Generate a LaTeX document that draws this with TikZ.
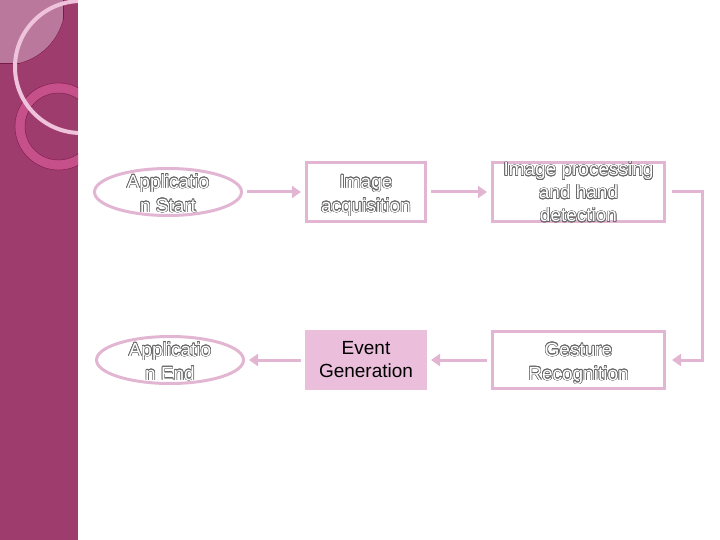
\documentclass[tikz,border=0pt]{standalone}
\usepackage{fontspec}
\setmainfont{Liberation Sans}
\usepackage[copies]{contour}
\usepackage{tikz}
\usetikzlibrary{shapes.geometric,arrows.meta,positioning}

\definecolor{bandpink}{HTML}{9E3C6E}
\definecolor{squarepink}{HTML}{B9789C}
\definecolor{ringpink}{HTML}{C5508A}
\definecolor{ringedge}{HTML}{7A1A48}
\definecolor{pale}{HTML}{EFC3DC}
\definecolor{flowpink}{HTML}{E2B6D3}
\definecolor{eventfill}{HTML}{EBBFDB}

\contourlength{0.6pt}
\newcommand{\etch}[1]{\contour{black!60}{#1}}

\begin{document}
\begin{tikzpicture}[x=1pt, y=-1pt,
    terminal/.style={ellipse, draw=flowpink, line width=3pt, text=white, inner xsep=0pt, inner ysep=-12pt, minimum width=147pt, minimum height=47pt, align=center, text height=40pt, text depth=0pt, font=\fontsize{19}{24}\selectfont},
    stepbox/.style={rectangle, draw=flowpink, line width=3pt, text=white, inner sep=0pt, minimum width=119pt, minimum height=59pt, align=center, text height=44pt, text depth=4pt, font=\fontsize{19}{24}\selectfont},
    eventbox/.style={rectangle, fill=eventfill, draw=eventfill, line width=3pt, inner sep=0pt, minimum width=119pt, minimum height=57pt, align=center, font=\fontsize{19}{23}\selectfont},
    line/.style={draw=flowpink, line width=3pt, -{Triangle[length=9pt,width=12pt]}, shorten >=4pt, shorten <=4pt}]

    \useasboundingbox (0,0) rectangle (720,540);

    % side band
    \fill[bandpink] (0,0) rectangle (78,540);
    \begin{scope}
        \clip (0,0) rectangle (63,63);
        \filldraw[fill=squarepink, draw=ringedge, thin] (5,5) circle (60);
    \end{scope}
    \draw[ringedge, thin] (0,63) -- (20.4,63) (63,0) -- (63,20.4);
    \begin{scope}
        \clip (0,0) rectangle (78,540);
        \fill[ringpink, even odd rule] (58.5,126.5) circle (43.5) (58.5,126.5) circle (33.5);
        \draw[ringedge, thin] (58.5,126.5) circle (43.5) (58.5,126.5) circle (33.5);
        \draw[pale, line width=4pt] (81,67) circle (66);
    \end{scope}

    % first row
    \node [terminal] (start) at (168,192) {\etch{Applicatio}\\\etch{n Start}};
    \node [stepbox, right=62pt of start] (acquire) {\etch{Image}\\\etch{acquisition}};
    \node [stepbox, right=64pt of acquire, minimum width=172pt, inner ysep=-5pt, text height=61pt, text depth=1pt, font=\fontsize{19}{23}\selectfont] (process) {\etch{Image processing}\\\etch{and hand}\\\etch{detection}};

    % second row
    \node [stepbox, below=107pt of process, minimum width=172pt, minimum height=57pt] (gesture) {\etch{Gesture}\\\etch{Recognition}};
    \node [eventbox, left=64pt of gesture] (event) {Event\\Generation};
    \node [terminal, left=60pt of event] (finish) {\etch{Applicatio}\\\etch{n End}};

    \path [line] (start) -- (acquire);
    \path [line] (acquire) -- (process);
    \path [line, shorten <=6pt, shorten >=6pt] (process.east) -- ++(36,0) |- (gesture.east);
    \path [line] (gesture) -- (event);
    \path [line] (event) -- (finish);
\end{tikzpicture}
\end{document}
